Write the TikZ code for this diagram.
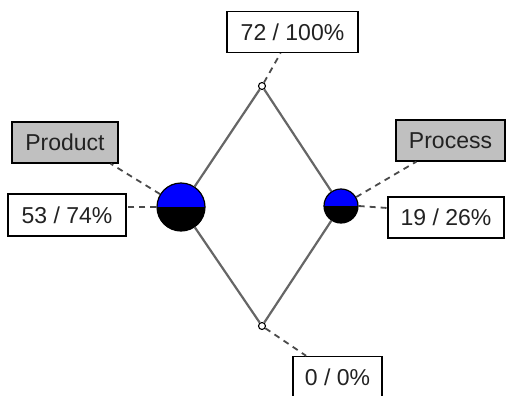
\documentclass[tikz,border=0pt]{standalone}
\usepackage{fontspec}
\setmainfont{Liberation Sans}
\usetikzlibrary{calc}
\definecolor{edgegray}{HTML}{666666}
\definecolor{leadgray}{HTML}{4A4A4A}
\definecolor{boxgray}{HTML}{C0C0C0}
\definecolor{inkgray}{HTML}{222222}
\tikzset{
  every node/.style={font=\fontsize{23}{27}\selectfont, text=inkgray},
  valuebox/.style={draw=black, line width=1.4pt, fill=white, inner sep=0pt, minimum height=41pt},
  namebox/.style={valuebox, fill=boxgray},
  halfball/.style={circle, draw=black, line width=1.2pt, inner sep=0pt, minimum size=#1,
    path picture={
      \fill[blue] (path picture bounding box.west) rectangle (path picture bounding box.north east);
      \fill[black] (path picture bounding box.south west) rectangle (path picture bounding box.east);
    }},
  joint/.style={circle, draw=black, fill=white, line width=1.1pt, inner sep=0pt, minimum size=7pt},
  edge/.style={draw=edgegray, line width=2.2pt},
  lead/.style={draw=leadgray, line width=1.8pt, dash pattern=on 6pt off 5pt}
}
\begin{document}
\begin{tikzpicture}[x=1pt, y=-1pt]
  \useasboundingbox (0,0) rectangle (506,396);

  % junction points of the lattice
  \node[joint] (T) at (262,86) {};
  \node[joint] (B) at (262,326) {};
  \node[halfball=48pt] (L) at (181,207) {};
  \node[halfball=34pt] (R) at (341,206) {};

  % lattice edges
  \draw[edge] (T) -- (L);
  \draw[edge] (T) -- (R);
  \draw[edge] (B) -- (L);
  \draw[edge] (B) -- (R);

  % labels
  \node[valuebox, minimum width=131pt] (vTop) at (292.5,32) {72 / 100\%};
  \node[valuebox, minimum width=89pt] (vBot) at (337.5,377) {0 / 0\%};
  \node[namebox, minimum width=106pt] (nProduct) at (65,142.5) {Product};
  \node[valuebox, minimum width=118pt, minimum height=42pt] (vL) at (67,215) {53 / 74\%};
  \node[namebox, minimum width=109pt] (nProcess) at (450.5,140.5) {Process};
  \node[valuebox, minimum width=116pt] (vR) at (446,217.5) {19 / 26\%};

  % leader lines from points to labels
  \draw[lead] (T) -- (vTop);
  \draw[lead] (B) -- (vBot);
  \draw[lead] (L) -- ([xshift=-8pt]nProduct.south east);
  \draw[lead] (L) -- (L -| vL.east);
  \draw[lead] (R) -- ([xshift=21pt]nProcess.south west);
  \draw[lead] (R.east) -- ([yshift=-2pt]vR.west |- R);
\end{tikzpicture}
\end{document}
